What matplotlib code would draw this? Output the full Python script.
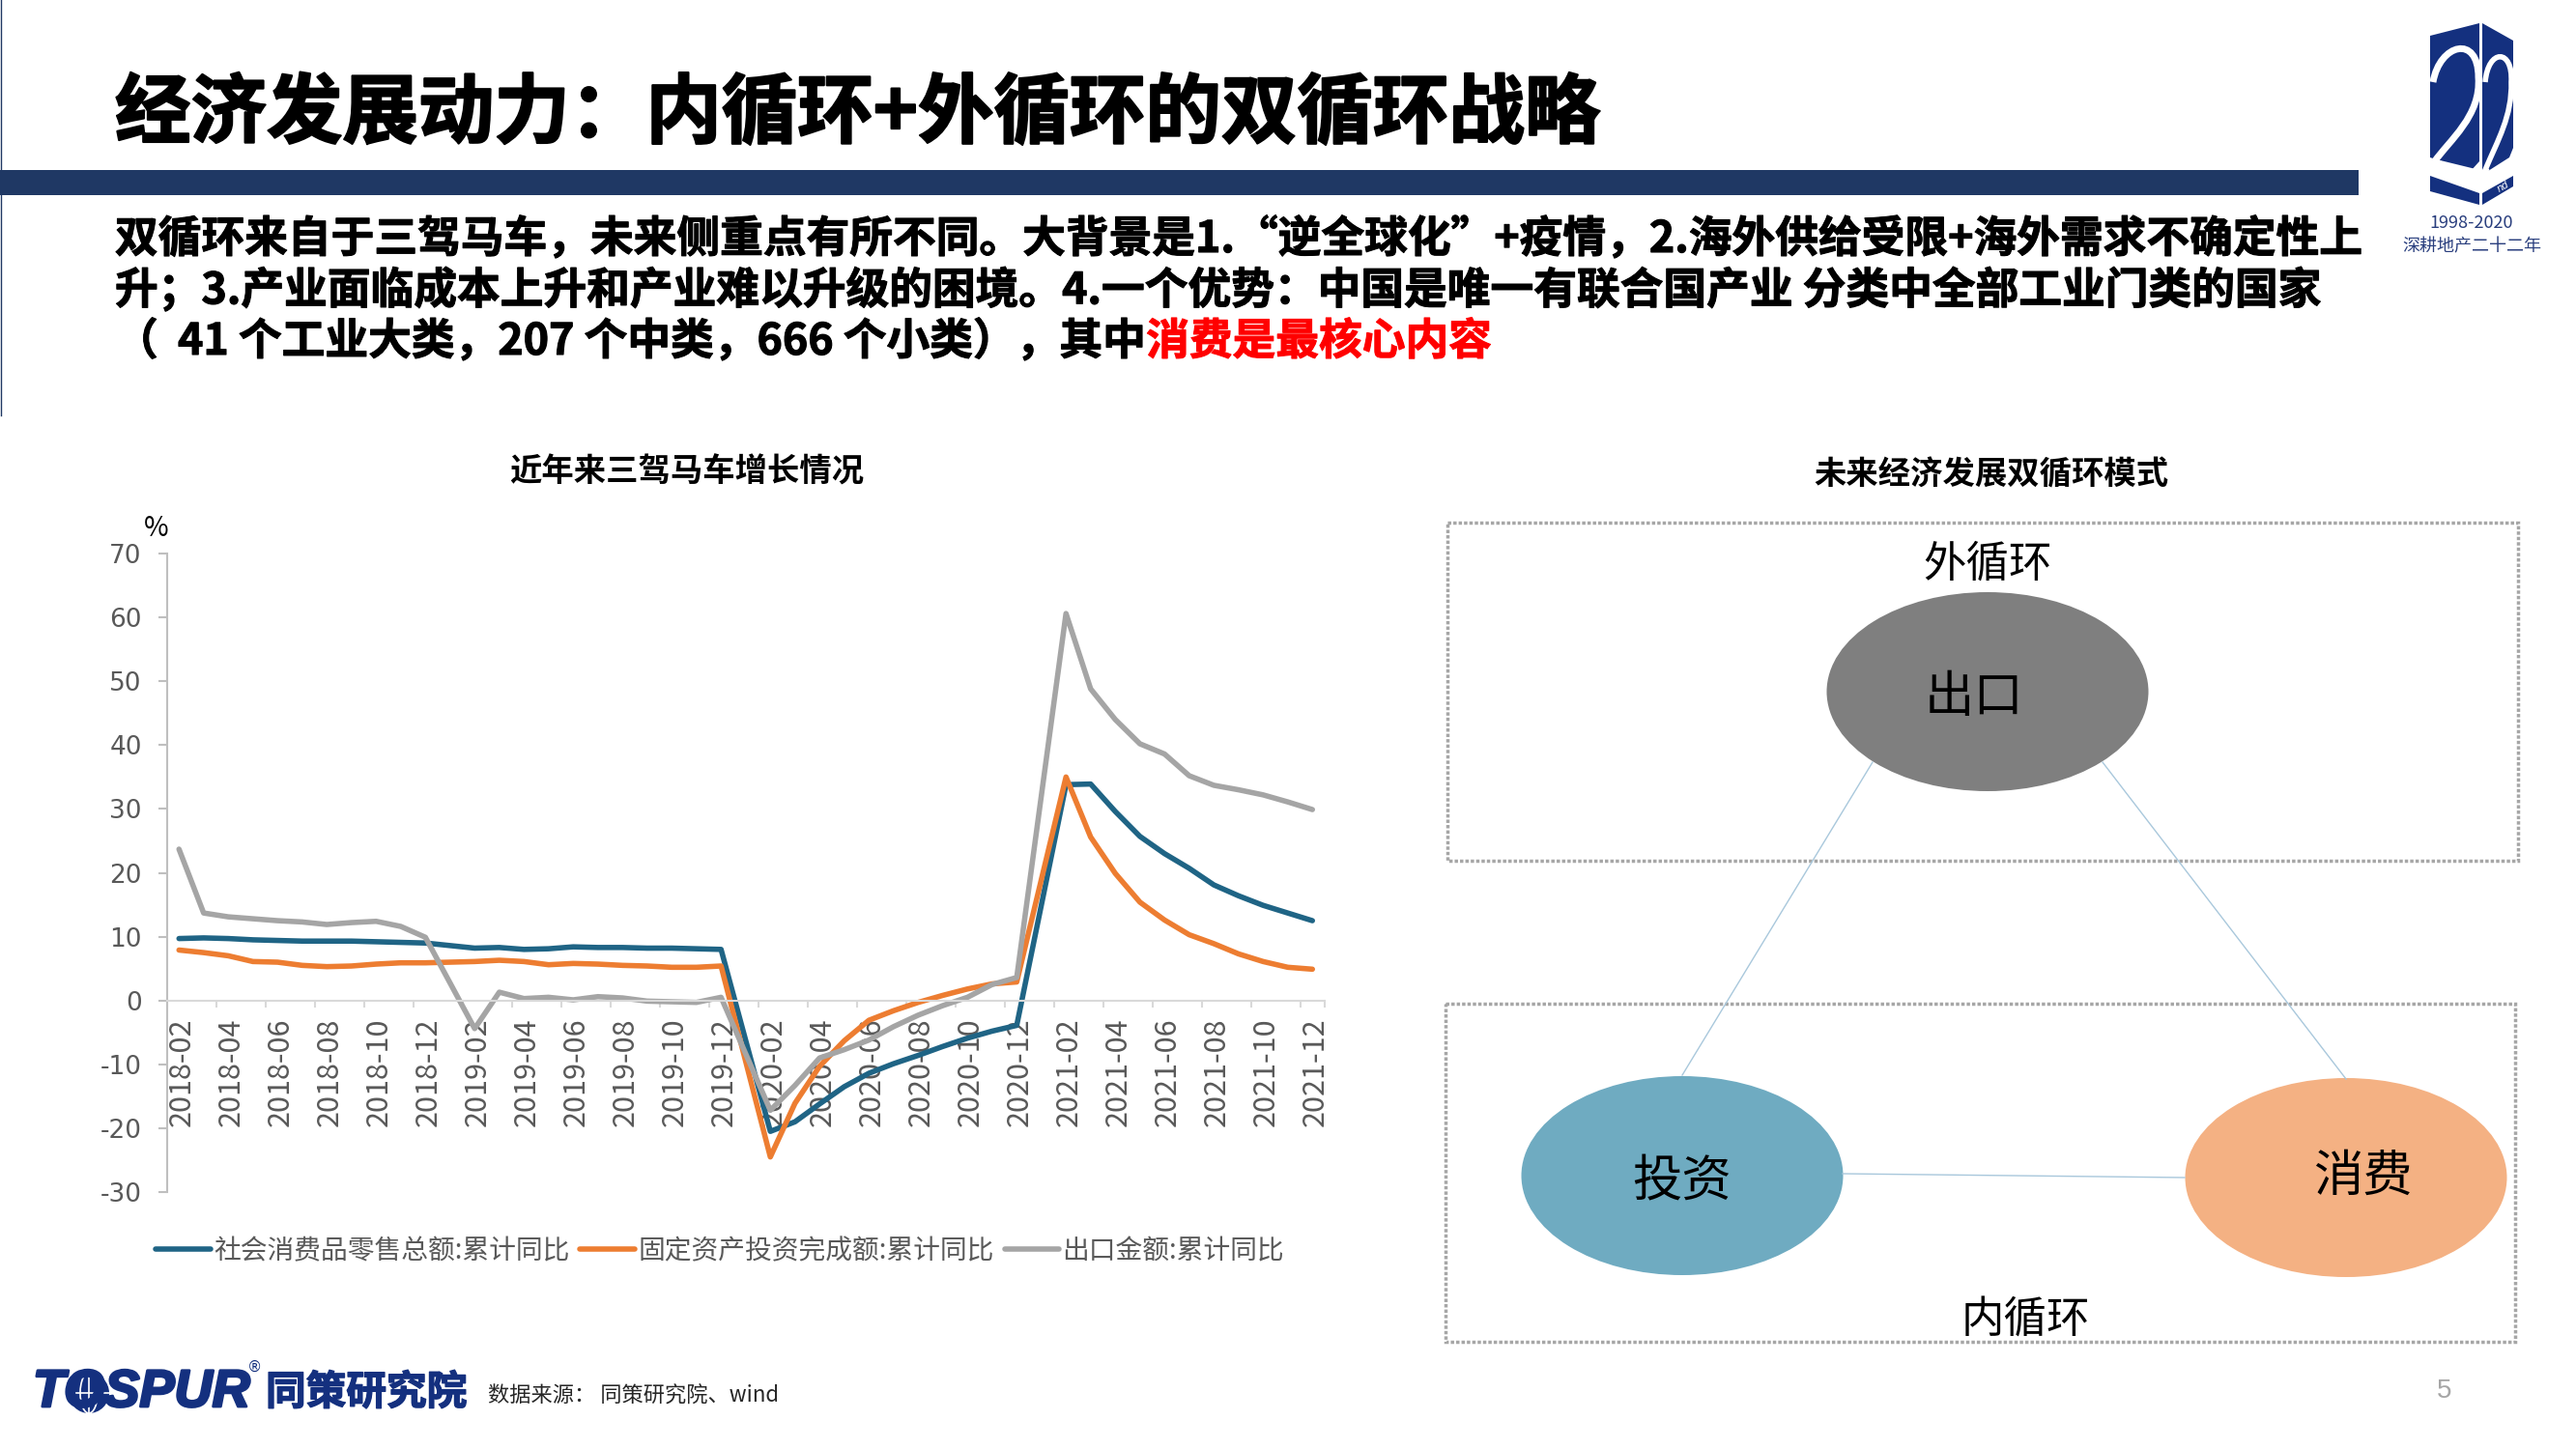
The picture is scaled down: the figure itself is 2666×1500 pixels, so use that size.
import matplotlib
matplotlib.use('Agg')
from matplotlib import pyplot as plt
from matplotlib import patheffects
from matplotlib.patches import Ellipse, Rectangle, Polygon, PathPatch
from matplotlib.path import Path
from matplotlib.transforms import ScaledTranslation

plt.rcParams['font.family'] = ['Noto Sans CJK SC', 'DejaVu Sans']

years = [2018, 2019, 2020, 2021]
months = [f'{y}-{m:02d}' for y in years for m in range(2, 13)]

retail = [9.7, 9.8, 9.7, 9.5, 9.4, 9.3, 9.3, 9.3, 9.2, 9.1, 9.0,
          8.2, 8.3, 8.0, 8.1, 8.4, 8.3, 8.3, 8.2, 8.2, 8.1, 8.0,
          -20.5, -19.0, -16.2, -13.5, -11.4, -9.9, -8.6, -7.2, -5.9, -4.8, -3.9,
          33.8, 33.9, 29.6, 25.7, 23.0, 20.7, 18.1, 16.4, 14.9, 13.7, 12.5]
invest = [7.9, 7.5, 7.0, 6.1, 6.0, 5.5, 5.3, 5.4, 5.7, 5.9, 5.9,
          6.1, 6.3, 6.1, 5.6, 5.8, 5.7, 5.5, 5.4, 5.2, 5.2, 5.4,
          -24.5, -16.1, -10.3, -6.3, -3.1, -1.6, -0.3, 0.8, 1.8, 2.6, 2.9,
          35.0, 25.6, 19.9, 15.4, 12.6, 10.3, 8.9, 7.3, 6.1, 5.2, 4.9]
export = [23.7, 13.7, 13.1, 12.8, 12.5, 12.3, 11.9, 12.2, 12.4, 11.6, 9.9,
          -4.4, 1.3, 0.3, 0.5, 0.1, 0.6, 0.4, -0.1, -0.2, -0.3, 0.5,
          -17.2, -13.3, -9.0, -7.7, -6.2, -4.1, -2.3, -0.8, 0.5, 2.5, 3.6,
          60.6, 48.8, 44.0, 40.2, 38.6, 35.2, 33.7, 33.0, 32.2, 31.1, 29.9]
series_names = ['社会消费品零售总额:累计同比', '固定资产投资完成额:累计同比', '出口金额:累计同比']
series_colors = ['#1F6485', '#ED7D31', '#A5A5A5']
y_ticks = [-30, -20, -10, 0, 10, 20, 30, 40, 50, 60, 70]
tick_labels = ['2018-02', '2018-04', '2018-06', '2018-08', '2018-10', '2018-12',
               '2019-02', '2019-04', '2019-06', '2019-08', '2019-10', '2019-12',
               '2020-02', '2020-04', '2020-06', '2020-08', '2020-10', '2020-12',
               '2021-02', '2021-04', '2021-06', '2021-08', '2021-10', '2021-12']

title = '经济发展动力\uff1a内循环+外循环的双循环战略'
body_1 = '双循环来自于三驾马车\uff0c未来侧重点有所不同。大背景是1.“逆全球化”+疫情\uff0c2.海外供给受限+海外需求不确定性上'
body_2 = '升\uff1b3.产业面临成本上升和产业难以升级的困境。4.一个优势\uff1a中国是唯一有联合国产业 分类中全部工业门类的国家'
body_3 = '\uff08  41 个工业大类\uff0c207 个中类\uff0c666 个小类\uff09\uff0c其中'
body_red = '消费是最核心内容'
NAVY = '#14307F'
W, H = 2666, 1500


def month_pos(label):
    y, m = label.split('-')
    return (int(y) - 2018) * 12 + int(m) - 2


fig = plt.figure(figsize=(W / 100, H / 100), dpi=100, facecolor='white')

# 整页的装饰层,坐标用像素
bg = fig.add_axes([0, 0, 1, 1])
bg.set_xlim(0, W)
bg.set_ylim(H, 0)
bg.axis('off')
heavy = [patheffects.withStroke(linewidth=0.8, foreground='black')]

bg.add_patch(Rectangle((0, 176), 2441, 26, color='#1F3864', lw=0))
bg.plot([1, 1], [0, 430], color='#1F3864', lw=1)
bg.text(119, 119, title, fontsize=56.5, fontweight='bold', color='black', va='center',
        path_effects=[patheffects.withStroke(linewidth=1.5, foreground='black')])

body_size = 32.2
bg.text(119, 248, body_1, fontsize=body_size, fontweight='bold', va='center', path_effects=heavy)
bg.text(119, 301, body_2, fontsize=body_size, fontweight='bold', va='center', path_effects=heavy)
t3 = bg.text(119, 354, body_3, fontsize=body_size, fontweight='bold', va='center', path_effects=heavy)
fig.canvas.draw()
box = t3.get_window_extent()
bg.text(box.x1, 354, body_red, fontsize=body_size, fontweight='bold', va='center', color='#FF0000',
        path_effects=[patheffects.withStroke(linewidth=0.8, foreground='#FF0000')])

bg.text(711, 489, '近年来三驾马车增长情况', fontsize=24, fontweight='bold', ha='center', va='center')
bg.text(2061, 492, '未来经济发展双循环模式', fontsize=24, fontweight='bold', ha='center', va='center')
bg.text(162, 547, '%', fontsize=20, ha='center', va='center')

# 右边的双循环示意图
bg.add_patch(Rectangle((1498, 541), 1108, 350, fill=False, ec='#A6A6A6', lw=2.5, ls=(0, (1, 0.6))))
bg.add_patch(Rectangle((1496, 1039), 1107, 350, fill=False, ec='#A6A6A6', lw=2.5, ls=(0, (1, 0.6))))
bg.plot([1938, 1741], [789, 1113], color='#A9C8DC', lw=1)
bg.plot([2176, 2428], [789, 1117], color='#A9C8DC', lw=1)
bg.plot([1907, 2261], [1215, 1219], color='#A9C8DC', lw=1)
bg.add_patch(Ellipse((2057, 716), 333, 206, color='#7F7F7F', lw=0))
bg.add_patch(Ellipse((1741, 1217), 333, 206, color='#6FABC1', lw=0))
bg.add_patch(Ellipse((2428, 1219), 333, 206, color='#F4B183', lw=0))
bg.text(2057, 584, '外循环', fontsize=32, ha='center', va='center')
bg.text(2096, 1366, '内循环', fontsize=32, ha='center', va='center')
bg.text(2043, 722, '出口', fontsize=37, ha='center', va='center')
bg.text(1741, 1223, '投资', fontsize=37, ha='center', va='center')
bg.text(2445, 1218, '消费', fontsize=37, ha='center', va='center')

# 右上角 22 周年标志
bg.add_patch(Polygon([(2515, 37), (2566, 24), (2566, 167), (2557, 177), (2515, 163)], color=NAVY, lw=0))
bg.add_patch(Polygon([(2569, 24), (2601, 42), (2601, 153), (2597, 163), (2575, 177), (2569, 177)], color=NAVY, lw=0))
bg.add_patch(Polygon([(2515, 182), (2566, 200), (2566, 212), (2515, 198)], color=NAVY, lw=0))
bg.add_patch(Polygon([(2569, 200), (2601, 182), (2601, 193), (2569, 212)], color=NAVY, lw=0))
two_codes = [Path.MOVETO, Path.CURVE4, Path.CURVE4, Path.CURVE4, Path.CURVE4, Path.CURVE4, Path.CURVE4, Path.LINETO]
bg.add_patch(PathPatch(Path([(2518, 85), (2525, 45), (2565, 35), (2565, 80),
                             (2568, 120), (2535, 145), (2519, 168), (2568, 180)], two_codes),
                       fill=False, ec='white', lw=5))
bg.add_patch(PathPatch(Path([(2572, 85), (2575, 50), (2601, 50), (2599, 85),
                             (2600, 120), (2585, 145), (2572, 176), (2575, 178)], two_codes),
                       fill=False, ec='white', lw=4))
bg.text(2591, 193, 'nd', fontsize=8, style='italic', color='white', ha='center', va='center',
        family='Liberation Sans', rotation=30)
bg.text(2558, 231, '1998-2020', fontsize=13, color='#2A3F7E', ha='center', va='center')
bg.text(2558, 255, '深耕地产二十二年', fontsize=13, color='#2A3F7E', ha='center', va='center')

# 左下角公司标志和来源
logo = bg.text(34, 1442, 'TOSPUR', fontsize=39, fontweight='bold', style='italic', color=NAVY,
               family='Liberation Sans', va='center')
logo.set_path_effects([patheffects.withStroke(linewidth=2, foreground=NAVY)])
bg.add_patch(Ellipse((92, 1442), 42, 42, color=NAVY, lw=0))
bg.add_patch(Ellipse((92, 1442), 18, 42, fill=False, ec='white', lw=1.2))
bg.plot([92, 92], [1421, 1463], color='white', lw=1.2)
bg.plot([71, 113], [1442, 1442], color='white', lw=1.2)
bg.text(263, 1415, '®', fontsize=11, color=NAVY, ha='center', va='center', family='DejaVu Sans')
bg.text(275, 1442, '同策研究院', fontsize=30, fontweight='bold', color=NAVY, va='center',
        path_effects=[patheffects.withStroke(linewidth=1, foreground=NAVY)])
bg.text(505, 1445, '数据来源\uff1a 同策研究院、wind', fontsize=16, color='#262626', va='center')
bg.text(2530, 1440, '5', fontsize=20, color='#A6A6A6', ha='center', va='center',
        family='Liberation Sans')

# 折线图
ax = fig.add_axes([172.5 / W, 1 - 1234 / H, (1371 - 172.5) / W, (1234 - 573) / H])
ax.patch.set_alpha(0)
ax.set_axisbelow(True)
x = [month_pos(m) for m in months]
for vals, name, col in zip([retail, invest, export], series_names, series_colors):
    ax.plot(x, vals, color=col, lw=4, label=name, solid_capstyle='round', solid_joinstyle='round')

ax.set_xlim(-0.5, 46.5)
ax.set_ylim(-30, 70)
ax.spines['top'].set_visible(False)
ax.spines['right'].set_visible(False)
ax.spines['left'].set_color('#BFBFBF')
ax.spines['left'].set_linewidth(1.5)
ax.spines['bottom'].set_position(('data', 0))
ax.spines['bottom'].set_color('#D9D9D9')
ax.spines['bottom'].set_linewidth(1.5)
ax.set_yticks(y_ticks)
ax.set_yticklabels([str(v) for v in y_ticks], family='DejaVu Sans')
ax.tick_params(axis='y', direction='out', length=6.5, width=1.5, color='#BFBFBF',
               labelsize=19, labelcolor='#595959', pad=12)
ax.set_xticks([month_pos(t) for t in tick_labels])
ax.set_xticklabels(tick_labels, rotation=90, va='top', ha='center')
ax.tick_params(axis='x', which='major', length=0, labelsize=22, labelcolor='#595959', pad=13)
# 竖排标签稍微往右挪一点
shift = ScaledTranslation(3 / 100, 0, fig.dpi_scale_trans)
for lab in ax.get_xticklabels():
    lab.set_transform(lab.get_transform() + shift)
ax.set_xticks([month_pos(t) - 0.5 for t in tick_labels] + [46.5], minor=True)
ax.tick_params(axis='x', which='minor', direction='out', length=5, width=1.5, color='#D9D9D9')

ax.legend(loc='center', bbox_to_anchor=(745 / W, 1 - 1295 / H), bbox_transform=fig.transFigure,
          ncol=3, frameon=False, fontsize=20, labelcolor='#595959', handlelength=2.05,
          handletextpad=0.1, columnspacing=0.4, borderpad=0, borderaxespad=0)

fig.savefig('out.png', dpi=100)
